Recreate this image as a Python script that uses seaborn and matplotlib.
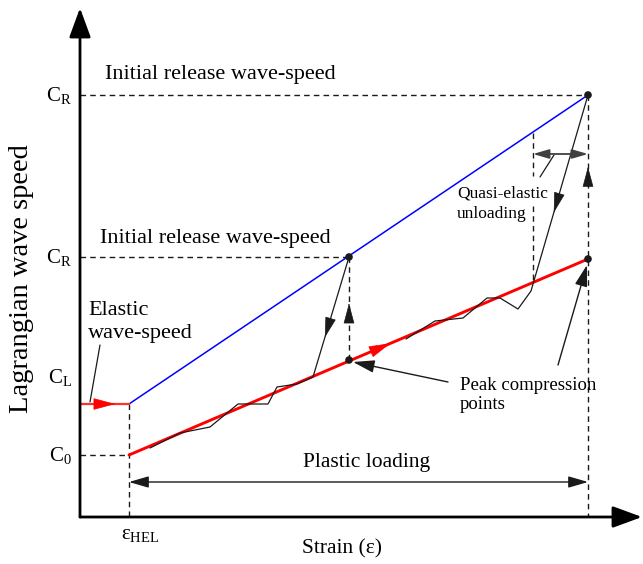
import matplotlib
matplotlib.use('Agg')
import matplotlib.pyplot as plt
import seaborn as sns

# chart coordinates: strain along x, wave speed along y, axis origin at (0, 0)
eps_hel = 49
eps_peaks = [269, 508]
c0 = 62
c_elastic = 113
c_release = [260, 422]
c_peak_low = [157, 258]

# straight lines of the schematic
elastic_x = [0, eps_hel]
elastic_y = [c_elastic, c_elastic]
release_x = [eps_hel, eps_peaks[1]]
release_y = [c_elastic, c_release[1]]
plastic_x = [eps_hel, eps_peaks[1]]
plastic_y = [c0, c_peak_low[1]]

# jagged loading paths followed by the unloading line up to the release speed
path1_x = [70, 100, 130, 158, 188, 197, 217, 233, 269]
path1_y = [69, 84, 90, 113, 113, 130, 133, 140, 260]
path2_x = [326, 355, 383, 407, 420, 438, 451, 508]
path2_y = [178, 196, 199, 219, 219, 208, 226, 422]

points_x = [269, 269, 508, 508]
points_y = [260, 157, 422, 258]

tick_labels = ['C$_\\mathrm{R}$', 'C$_\\mathrm{R}$', 'C$_\\mathrm{L}$', 'C$_0$']
tick_y = [422, 260, 139, 62]

sns.set_theme(style='white')
plt.rcParams['font.family'] = ['Liberation Serif', 'DejaVu Serif']
plt.rcParams['text.color'] = 'black'
plt.rcParams['mathtext.fontset'] = 'custom'
plt.rcParams['mathtext.rm'] = 'Liberation Serif'
plt.rcParams['mathtext.it'] = 'Liberation Serif:italic'

fig = plt.figure(figsize=(6.43, 5.64), dpi=100)
ax = fig.add_axes([0, 0, 1, 1])
ax.set_xlim(-80, 563)
ax.set_ylim(-47, 517)
ax.axis('off')

DASH = (0, (4, 3))


def dashed(x, y):
    ax.plot(x, y, color='k', lw=1, ls=DASH, zorder=1)


def head(x0, y0, x1, y1, t, color, size=11):
    # small filled arrowhead placed along a segment at fraction t
    tx, ty = x0 + (x1 - x0) * t, y0 + (y1 - y0) * t
    bx, by = x0 + (x1 - x0) * (t - 0.02), y0 + (y1 - y0) * (t - 0.02)
    ax.annotate('', xy=(tx, ty), xytext=(bx, by),
                arrowprops=dict(arrowstyle='-|>,head_length=1.2,head_width=0.32',
                                color=color, lw=0.5, mutation_scale=size,
                                shrinkA=0, shrinkB=0), zorder=5)


def arrow(x0, y0, x1, y1, style='-|>', color='k', lw=1, size=10):
    ax.annotate('', xy=(x1, y1), xytext=(x0, y0),
                arrowprops=dict(arrowstyle=style + ',head_length=1.2,head_width=0.35',
                                color=color, lw=lw, mutation_scale=size,
                                shrinkA=0, shrinkB=0), zorder=4)


# axes with arrowheads
for tip in [(0, 509), (562, 0)]:
    ax.annotate('', xy=tip, xytext=(0, 0),
                arrowprops=dict(arrowstyle='-|>,head_length=0.9,head_width=0.33',
                                lw=2, color='black', mutation_scale=20,
                                shrinkA=0, shrinkB=0))

# guide lines
dashed([0, eps_peaks[1]], [c_release[1]] * 2)
dashed([0, eps_peaks[0]], [c_release[0]] * 2)
dashed([0, eps_hel], [c0] * 2)
dashed([eps_hel] * 2, [c_elastic, 0])
dashed([eps_peaks[0]] * 2, [c_release[0], c_peak_low[0]])
dashed([eps_peaks[1]] * 2, [c_release[1], 0])
dashed([453, 453], [384, 341])
dashed([453, 453], [311, 235])

# lines
sns.lineplot(x=release_x, y=release_y, color='#0000ff', lw=1.1, ax=ax, zorder=2)
sns.lineplot(x=plastic_x, y=plastic_y, color='#ff0000', lw=2.1, ax=ax, zorder=2)
sns.lineplot(x=elastic_x, y=elastic_y, color='#ff3030', lw=1.6, ax=ax, zorder=2)
sns.lineplot(x=path1_x, y=path1_y, color='k', lw=0.9, sort=False, estimator=None, ax=ax, zorder=3)
sns.lineplot(x=path2_x, y=path2_y, color='k', lw=0.9, sort=False, estimator=None, ax=ax, zorder=3)
sns.scatterplot(x=points_x, y=points_y, color='k', s=30, edgecolor='none', ax=ax, zorder=6)

# arrowheads along the lines
head(0, c_elastic, eps_hel, c_elastic, 0.72, '#ff0000', 12)
head(plastic_x[0], plastic_y[0], plastic_x[1], plastic_y[1], 0.57, '#ff0000', 12)
head(path1_x[-1], path1_y[-1], path1_x[-2], path1_y[-2], 0.67, 'k')
head(path2_x[-1], path2_y[-1], path2_x[-2], path2_y[-2], 0.6, 'k')
head(eps_peaks[0], c_peak_low[0], eps_peaks[0], c_release[0], 0.55, 'k')
head(eps_peaks[1], 0, eps_peaks[1], c_release[1], 0.83, 'k')

# annotation arrows
arrow(eps_hel, 35, eps_peaks[1], 35, style='<|-|>')
arrow(453, 363, 508, 363, style='<|-|>', color='#404040', lw=1.3, size=8)
ax.plot([474, 460], [362, 340], color='k', lw=0.9)
ax.plot([20, 10], [172, 115], color='k', lw=0.9)
arrow(368, 135, 273, 155, size=11)
arrow(478, 152, 507, 252, size=11)

# texts
ax.text(25, 443, 'Initial release wave-speed', fontsize=16, ha='left', va='center')
ax.text(20, 279, 'Initial release wave-speed', fontsize=16, ha='left', va='center')
ax.text(8, 195, 'Elastic\nwave-speed', fontsize=16, ha='left', va='center', linespacing=1.25)
ax.text(377, 313, 'Quasi-elastic\nunloading', fontsize=12.5, ha='left', va='center', linespacing=1.35)
ax.text(380, 122, 'Peak compression\npoints', fontsize=13.5, ha='left', va='center', linespacing=1.15)
ax.text(287, 55, 'Plastic loading', fontsize=15.5, ha='center', va='center')
for lab, yv in zip(tick_labels, tick_y):
    ax.text(-8, yv, lab, fontsize=15, ha='right', va='center')
ax.text(60, -18, 'ε$_\\mathrm{HEL}$', fontsize=15, ha='center', va='center')
ax.text(262, -32, 'Strain (ε)', fontsize=15.5, ha='center', va='center')
ax.text(-58, 238, 'Lagrangian wave speed', fontsize=20.5, rotation=90, ha='center', va='center')

fig.savefig('out.png', dpi=100)
